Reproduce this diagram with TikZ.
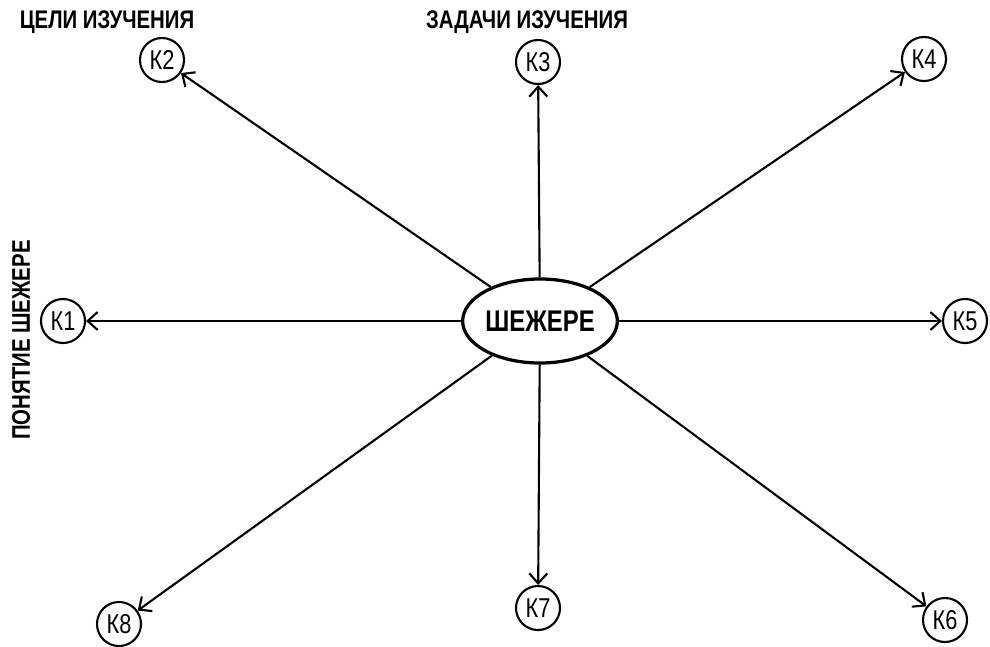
\documentclass[tikz,border=0pt]{standalone}
\usepackage{graphicx}
\usepackage{fontspec}
\setmainfont{Liberation Sans}
\usetikzlibrary{arrows.meta,positioning,shapes}
\newcommand{\tallword}[1]{\scalebox{1}[1.25]{#1}}

\begin{document}
\begin{tikzpicture}[x=0.025cm, y=-0.025cm,
            knot/.style={circle, draw, line width=1.5pt, inner sep=0pt, minimum size=1.1cm, font=\fontsize{15.5}{18}\selectfont},
            centre/.style={ellipse, draw, line width=2.3pt, minimum width=3.8cm, minimum height=2.1cm, inner sep=0pt, font=\bfseries\fontsize{17}{20}\selectfont},
            title/.style={font=\bfseries\fontsize{14.5}{17}\selectfont},
            arrow/.style={-{Straight Barb[length=2.5mm,width=4.5mm]}, line width=1.5pt}
        ]
        \useasboundingbox (0,0) rectangle (990,646);

        \node[centre] (shezhere) at (540,321) {\tallword{ШЕЖЕРЕ}};

        \node[knot] (k1) at (63,321) {\tallword{К1}};
        \node[knot] (k2) at (162,60) {\tallword{К2}};
        \node[knot] (k3) at (538,62) {\tallword{К3}};
        \node[knot] (k4) at (924,59) {\tallword{К4}};
        \node[knot] (k5) at (965,321) {\tallword{К5}};
        \node[knot] (k6) at (945,620) {\tallword{К6}};
        \node[knot] (k7) at (538,608) {\tallword{К7}};
        \node[knot] (k8) at (119,624) {\tallword{К8}};

        \foreach \k in {k1,k2,k3,k4,k5,k6,k7,k8}
            \draw[arrow] (shezhere) -- (\k);

        % Подписи
        \node[title] (celi) at (107,22) {\tallword{ЦЕЛИ ИЗУЧЕНИЯ}};
        \node[title] (zadachi) at (527,22) {\tallword{ЗАДАЧИ ИЗУЧЕНИЯ}};
        \node[title, rotate=90] (ponyatie) at (21,340) {\tallword{ПОНЯТИЕ ШЕЖЕРЕ}};
\end{tikzpicture}
\end{document}
